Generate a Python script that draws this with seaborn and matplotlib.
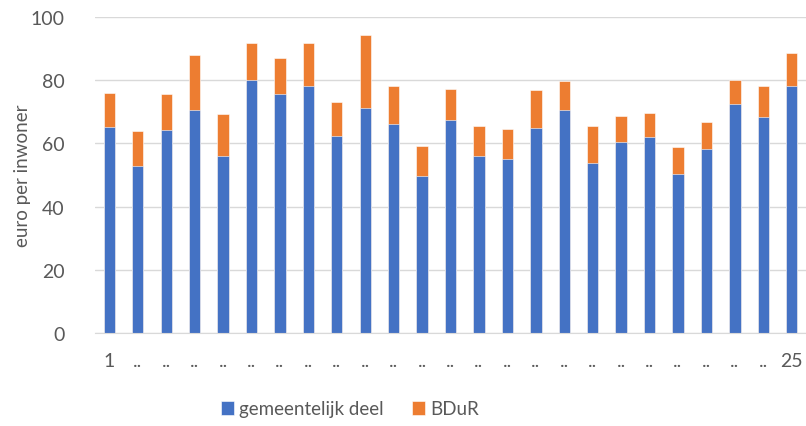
import matplotlib
matplotlib.use("Agg")
import matplotlib.pyplot as plt
import seaborn as sns
import pandas as pd

categories = [str(i) for i in range(1, 26)]
tick_labels = ["1"] + [".."] * 23 + ["25"]
gemeentelijk_deel = [65.3, 52.8, 64.2, 70.4, 56.0, 80.1, 75.6, 78.2, 62.4, 71.1, 66.0, 49.6, 67.4,
                     56.0, 55.0, 65.0, 70.4, 53.9, 60.3, 62.1, 50.3, 58.1, 72.5, 68.2, 78.2]
bdur = [10.6, 11.0, 11.4, 17.4, 13.2, 11.7, 11.5, 13.6, 10.7, 23.2, 12.1, 9.6, 9.7,
        9.6, 9.6, 11.8, 9.2, 11.7, 8.3, 7.5, 8.6, 8.6, 7.6, 10.0, 10.4]

BLUE = "#4472C4"
ORANGE = "#ED7D31"

df = pd.DataFrame({"cat": categories, "gem": gemeentelijk_deel, "bdur": bdur})
df["total"] = df["gem"] + df["bdur"]

sns.set_style("white")
plt.rcParams["font.family"] = ["Lato", "DejaVu Sans"]

fig = plt.figure(figsize=(8.06, 4.27), dpi=100)
ax = fig.add_axes([0.118, 0.218, 0.882, 0.74])

sns.barplot(data=df, x="cat", y="total", color=ORANGE, width=0.4, ax=ax,
            saturation=1, edgecolor="white", linewidth=0.4, label="BDuR")
sns.barplot(data=df, x="cat", y="gem", color=BLUE, width=0.4, ax=ax,
            saturation=1, edgecolor="white", linewidth=0.4, label="gemeentelijk deel")

ax.set_ylim(0, 100)
ax.set_xlim(-0.5, 24.5)
ax.set_yticks([0, 20, 40, 60, 80, 100])
ax.yaxis.grid(True, color="#d9d9d9", linewidth=1)
ax.set_axisbelow(True)
for s in ["top", "right", "left"]:
    ax.spines[s].set_visible(False)
ax.spines["bottom"].set_color("#d9d9d9")
ax.set_xticks(range(25))
ax.set_xticklabels(tick_labels)
ax.tick_params(axis="both", length=0, colors="#595959", labelsize=14)
ax.tick_params(axis="x", pad=14)
ax.tick_params(axis="y", pad=22)
ax.set_xlabel("")
ax.set_ylabel("euro per inwoner", fontsize=13.5, color="#595959", labelpad=0)

handles, labels = ax.get_legend_handles_labels()
if ax.get_legend() is not None:
    ax.get_legend().remove()
order = [labels.index("gemeentelijk deel"), labels.index("BDuR")]
fig.legend([handles[i] for i in order], [labels[i] for i in order],
           loc="center", bbox_to_anchor=(350 / 806, 1 - 410 / 427), ncol=2,
           frameon=False, fontsize=13.5, labelcolor="#595959",
           handlelength=0.7, handleheight=0.7, handletextpad=0.3, columnspacing=1.5)

fig.savefig("out.png", dpi=100)
